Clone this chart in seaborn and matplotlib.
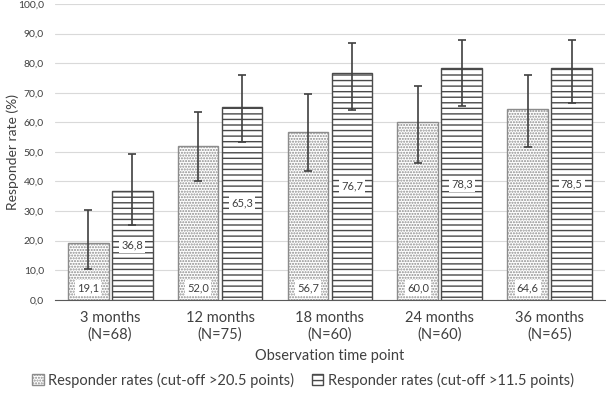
import numpy as np
import pandas as pd
import matplotlib
matplotlib.use("Agg")
import matplotlib.pyplot as plt
import matplotlib.patches as mpatches
import seaborn as sns

# data
timepoints = ["3 months\n(N=68)", "12 months\n(N=75)", "18 months\n(N=60)",
              "24 months\n(N=60)", "36 months\n(N=65)"]
series = ["Responder rates (cut-off >20.5 points)", "Responder rates (cut-off >11.5 points)"]
rate_205 = [19.1, 52.0, 56.7, 60.0, 64.6]
rate_115 = [36.8, 65.3, 76.7, 78.3, 78.5]
low_205 = [10.5, 40.0, 43.4, 46.4, 51.8]
high_205 = [30.4, 63.6, 69.4, 72.3, 76.1]
low_115 = [25.3, 53.5, 64.2, 65.6, 66.4]
high_115 = [49.3, 75.9, 86.7, 87.8, 87.7]

df = pd.DataFrame({
    "time": timepoints * 2,
    "series": [series[0]] * 5 + [series[1]] * 5,
    "rate": rate_205 + rate_115,
})

def fmt(v):
    return f"{v:.1f}".replace(".", ",")

sns.set_style("white")
plt.rcParams["font.family"] = ["Lato", "DejaVu Sans"]
plt.rcParams["hatch.linewidth"] = 1.0
txt = "#404040"

fig = plt.figure(figsize=(6.06, 3.94), dpi=100)
ax = fig.add_axes([0.091, 0.239, 0.907, 0.751])

sns.barplot(data=df, x="time", y="rate", hue="series", order=timepoints,
            hue_order=series, width=0.8, gap=0.07, ax=ax, legend=False,
            edgecolor="#595959", linewidth=1.0, errorbar=None)

styles = [dict(hatch="......", edgecolor="#8c8c8c"), dict(hatch="---", edgecolor="#4a4a4a")]
for cont, st in zip(ax.containers, styles):
    for p in cont:
        p.set_facecolor("white")
        p.set_hatch(st["hatch"])
        p.set_edgecolor(st["edgecolor"])

# error bars from bar positions
for cont, vals, lo, hi in zip(ax.containers, [rate_205, rate_115],
                              [low_205, low_115], [high_205, high_115]):
    xs = [p.get_x() + p.get_width() / 2 for p in cont]
    v = np.array(vals)
    yerr = [v - np.array(lo), np.array(hi) - v]
    ax.errorbar(xs, v, yerr=yerr, fmt="none", ecolor="#404040",
                elinewidth=1.2, capsize=3, capthick=1.2, zorder=4)

box = dict(facecolor="white", edgecolor="none", pad=1.5)
# labels: dotted at base, striped at centre
for p, v in zip(ax.containers[0], rate_205):
    ax.text(p.get_x() + p.get_width() / 2, 4.0, fmt(v), ha="center", va="center",
            fontsize=8, color=txt, bbox=box, zorder=5)
ax.bar_label(ax.containers[1], labels=[fmt(v) for v in rate_115], label_type="center",
             fontsize=8, color=txt, bbox=box, zorder=5)

ax.set_ylim(0, 100)
ax.set_xlim(-0.5, 4.5)
ax.set_yticks(np.arange(0, 101, 10))
ax.set_yticklabels([fmt(t) for t in np.arange(0, 101, 10)], fontsize=7.5, color=txt)
ax.tick_params(axis="x", labelsize=10.5, labelcolor=txt, length=0, pad=8)
ax.tick_params(axis="y", length=0, pad=8)
ax.yaxis.grid(True, color="#d9d9d9", linewidth=0.8)
ax.set_axisbelow(True)
for s in ["top", "right", "left"]:
    ax.spines[s].set_visible(False)
ax.spines["bottom"].set_color("#595959")
ax.set_xlabel("Observation time point", fontsize=10.5, color=txt, labelpad=5)
ax.set_ylabel("Responder rate (%)", fontsize=10, color=txt)
ax.yaxis.set_label_coords(-0.066, 0.5)

handles = [mpatches.Patch(facecolor="white", hatch=st["hatch"], edgecolor=st["edgecolor"],
                          label=s) for st, s in zip(styles, series)]
fig.legend(handles=handles, loc="center", bbox_to_anchor=(0.5, 0.035), ncol=2,
           frameon=False, fontsize=10.5, handlelength=0.8, handleheight=0.8,
           handletextpad=0.3, columnspacing=1.2, labelcolor=txt)

fig.savefig("out.png", dpi=100)
